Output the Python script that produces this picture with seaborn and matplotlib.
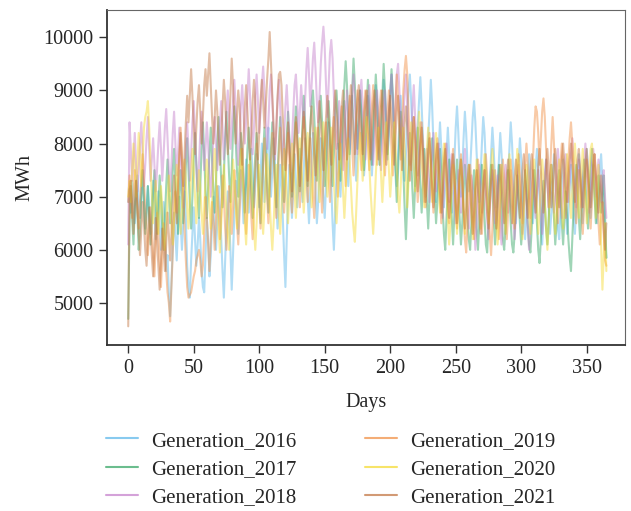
import numpy as np
import pandas as pd
import matplotlib.pyplot as plt
import seaborn as sns

# daily generation values (MWh)
gen_2016 = [
    6900, 7150, 6700, 7300, 6850, 6500, 7000, 7400, 6900, 6600, 7100, 7500, 6950, 6400, 6800, 7200, 6700, 6300, 6900, 7300,
    6800, 6200, 6600, 7100, 6500, 6000, 6400, 6900, 6300, 5600, 5900, 5200, 4750, 5400, 6100, 6700, 6300, 5800, 6400, 7000,
    6500, 6000, 6500, 7100, 6600, 5700, 5300, 5100, 5800, 6300, 6800, 6200, 5700, 6100, 6600, 6200, 5600, 5300, 5200, 5900,
    6600, 6200, 5500, 5900, 6500, 7000, 6400, 6000, 6500, 7200, 6800, 6200, 5600, 5100, 5800, 6500, 7100, 6600, 6000, 5250,
    5900, 6700, 7300, 6800, 6300, 6900, 7500, 7100, 6500, 7000, 7700, 7200, 6700, 7300, 7900, 7400, 6800, 7200, 7800, 7300,
    6800, 7400, 8000, 7500, 6900, 7300, 7900, 8300, 7600, 7000, 7500, 8100, 7600, 6900, 6400, 7000, 7600, 7200, 6600, 5900,
    5300, 6200, 7000, 7600, 7100, 6600, 7200, 7800, 7300, 6800, 7300, 7900, 7400, 6900, 7500, 8100, 7600, 7000, 6500, 7100,
    7700, 8200, 7700, 7100, 6500, 6900, 7500, 8100, 7600, 7000, 6600, 7200, 7900, 8400, 7800, 7200, 6500, 6000, 6700, 7400,
    8000, 7500, 7000, 7600, 8300, 8800, 8300, 7700, 7200, 7800, 8400, 8900, 8400, 7800, 7300, 7900, 8500, 9000, 8500, 7900,
    7400, 7800, 8400, 8900, 8500, 7900, 7400, 7900, 8600, 9100, 8700, 8100, 7600, 8100, 8700, 9200, 8800, 8200, 7700, 8300,
    8900, 9300, 8800, 8200, 7600, 7200, 7800, 8400, 8900, 8400, 7800, 7300, 7800, 8500, 9000, 9300, 8800, 8200, 7600, 7200,
    7700, 8300, 8800, 9250, 8700, 8100, 7500, 7000, 7500, 8100, 8600, 9200, 8700, 8000, 7400, 6900, 7300, 7900, 8400, 7900,
    7300, 6800, 7200, 7800, 8300, 7800, 7200, 6700, 7100, 7700, 8300, 8700, 8200, 7600, 7000, 7500, 8100, 8600, 8200, 7600,
    7100, 7500, 8000, 8500, 8800, 8400, 7800, 7300, 6900, 7400, 8000, 8500, 8200, 7600, 7100, 6700, 7200, 7800, 8300, 7900,
    7300, 6800, 7200, 7700, 8200, 7800, 7200, 6700, 6300, 6800, 7400, 7900, 8400, 8000, 7400, 6900, 6500, 7000, 7600, 8100,
    7700, 7100, 6600, 6200, 6700, 7300, 7800, 7400, 6900, 6500, 6900, 7500, 7900, 7500, 7000, 6500, 6100, 6600, 7200, 7700,
    7300, 6800, 6300, 6700, 7300, 7800, 7400, 6900, 6400, 6200, 6700, 7300, 7700, 7300, 6800, 6300, 6700, 7200, 7600, 7200,
    6700, 6300, 6800, 7300, 7800, 7400, 6900, 6500, 7000, 7500, 7900, 7500, 7000, 6600, 7100, 7600, 7200, 6800, 6500, 7000,
    7500, 7800, 7300, 6800, 6200, 5850,
]
gen_2017 = [
    4700, 6500, 7200, 6600, 6100, 6800, 7300, 6700, 6000, 6400, 7000, 7500, 6900, 6300, 6700, 7200, 6600, 6100, 6500, 7100,
    7500, 6900, 6300, 6800, 7400, 7000, 6400, 6000, 6600, 7200, 7700, 7100, 6500, 6900, 7500, 7900, 7300, 6700, 6300, 6900,
    7500, 7100, 6500, 7000, 7600, 8100, 7500, 6900, 6400, 7000, 7700, 8200, 7600, 7000, 6600, 7200, 7900, 8400, 7800, 7100,
    6600, 7200, 7800, 8300, 7700, 7100, 6700, 7300, 8000, 8500, 7900, 7300, 6800, 7400, 8100, 8600, 8000, 7400, 6900, 7500,
    8200, 8700, 8100, 7500, 7000, 7600, 8200, 7800, 7200, 6700, 7300, 7900, 8300, 7700, 7100, 6600, 7200, 7800, 8200, 7600,
    7000, 6500, 7100, 7800, 8300, 7800, 7200, 6700, 7300, 7900, 8400, 7900, 7300, 6800, 7400, 8000, 8500, 8000, 7400, 6900,
    7500, 8100, 8600, 8100, 7500, 7000, 7600, 8200, 8700, 8200, 7600, 7100, 7700, 8300, 8900, 8400, 7800, 7200, 7700, 8300,
    8800, 9000, 8500, 7900, 7300, 7800, 8400, 8900, 8400, 7800, 7200, 7700, 8300, 8800, 8300, 7700, 7200, 7800, 8500, 9000,
    8500, 7900, 7300, 7900, 8600, 9100, 9550, 9100, 8400, 7800, 8400, 9000, 9600, 9100, 8500, 7900, 8400, 9000, 8600, 8000,
    7500, 8100, 8700, 9200, 8700, 8100, 7600, 8200, 8800, 9300, 8800, 8200, 7600, 8200, 8900, 9500, 9000, 8400, 7800, 8300,
    8900, 9400, 8900, 8200, 7500, 6900, 7500, 8100, 8600, 8100, 7500, 6800, 6200, 6900, 7600, 8200, 7700, 7100, 6600, 7200,
    7800, 8300, 7800, 7200, 6700, 7300, 7900, 7500, 6900, 6400, 7000, 7600, 8100, 7600, 7000, 6500, 6900, 7500, 7900, 7400,
    6800, 6300, 6000, 6600, 7200, 7700, 7200, 6600, 6100, 6700, 7300, 7700, 7200, 6600, 6100, 6500, 7100, 7600, 7200, 6600,
    6200, 6000, 6500, 7100, 7500, 7000, 6400, 6000, 6500, 7100, 7600, 7200, 6600, 6100, 5950, 6500, 7100, 7600, 7200, 6600,
    6100, 6500, 7100, 7600, 7300, 6700, 6200, 6000, 6400, 7000, 7500, 7100, 6500, 6100, 5950, 6300, 6900, 7400, 7000, 6500,
    6100, 6500, 7100, 7500, 7100, 6500, 6100, 5950, 6400, 7000, 7500, 7100, 6500, 6000, 5750, 6200, 6800, 7300, 6900, 6400,
    6100, 6600, 7200, 7600, 7200, 6600, 6100, 6500, 7100, 7500, 7000, 6500, 6100, 6600, 7100, 6700, 6200, 5850, 5600, 6200,
    6800, 7300, 7600, 7200, 6600, 6200, 6700, 7300, 7700, 7300, 6800, 6400, 6900, 7500, 7900, 7500, 7000, 6500, 6900, 7400,
    7200, 6700, 7100, 7400, 6600, 5850,
]
gen_2018 = [
    6100, 8400, 7900, 7300, 7700, 8200, 7600, 7100, 7500, 8000, 8400, 7800, 7200, 7600, 8100, 8500, 7900, 7300, 7700, 8100,
    7600, 7100, 7500, 8000, 8400, 7900, 7300, 7800, 8300, 8650, 8100, 7500, 7100, 7600, 8200, 8600, 8000, 7400, 7800, 8300,
    7800, 7200, 6800, 7300, 7900, 8400, 7900, 7300, 7800, 8400, 8800, 8200, 7600, 7100, 7600, 8200, 8600, 8100, 7500, 7900,
    8400, 8000, 7400, 7000, 7500, 8100, 8500, 8000, 7500, 7900, 8400, 8800, 8300, 7700, 8100, 8600, 9000, 8500, 7900, 8300,
    8800, 9200, 8700, 8100, 7600, 8100, 8700, 9100, 8600, 8000, 8400, 8900, 9400, 8900, 8300, 7800, 8300, 8900, 9300, 8800,
    8200, 8600, 9100, 9450, 9000, 8400, 7900, 8400, 9000, 9300, 8800, 8200, 7700, 8200, 8800, 9200, 8700, 8100, 7600, 8100,
    8700, 9100, 8600, 8000, 7500, 8000, 8600, 9100, 9300, 8800, 8200, 8600, 9100, 8700, 8300, 8800, 9400, 9800, 9300, 8700,
    9100, 9600, 9900, 9400, 8800, 8400, 8900, 9500, 9900, 10200, 9800, 9100, 8500, 9100, 9700, 9950, 9600, 8900, 8300, 7900,
    8300, 8800, 8400, 7900, 7500, 8000, 8600, 9000, 8500, 7900, 8400, 9000, 9300, 8800, 8200, 7800, 8300, 8900, 9200, 8700,
    8100, 7700, 8200, 8800, 9100, 8600, 8000, 7600, 8100, 8700, 9000, 8500, 7900, 7500, 8000, 8600, 9000, 8500, 7900, 8400,
    9000, 9300, 8800, 8200, 8700, 9300, 9500, 9000, 8400, 7900, 8400, 9000, 9300, 8700, 8100, 7600, 8100, 8700, 9100, 8500,
    7900, 7400, 7900, 8400, 8000, 7400, 6900, 7400, 7900, 7500, 6900, 7300, 7800, 8200, 7700, 7100, 7500, 8000, 7600, 7000,
    6600, 7100, 7700, 8000, 7500, 6900, 7300, 7800, 7400, 6800, 6500, 7000, 7500, 7200, 6700, 7100, 7600, 7900, 7400, 6800,
    6400, 6900, 7400, 7100, 6600, 6000, 6500, 7100, 7600, 7200, 6700, 7100, 7500, 7100, 6600, 6200, 6700, 7200, 7500, 7000,
    6500, 6900, 7400, 7000, 6400, 6100, 6600, 7200, 7600, 7200, 6700, 7100, 7500, 7100, 6500, 6200, 6700, 7200, 7600, 7200,
    6700, 6300, 6800, 7300, 6900, 6400, 6000, 6500, 7100, 7500, 7100, 6600, 7000, 7500, 7200, 6700, 6300, 6800, 7400, 7700,
    7300, 6800, 7200, 7600, 7200, 6700, 7000, 7500, 7900, 7500, 7000, 6600, 7000, 7500, 7800, 7400, 6900, 7300, 7800, 8100,
    7700, 7200, 6800, 7200, 7700, 7300, 6800, 7200, 7600, 8000, 7600, 7100, 6700, 7100, 7600, 7900, 7500, 7000, 7400, 7700,
    7300, 6900, 7300, 7500, 7000, 6600,
]
gen_2019 = [
    6900, 7400, 7100, 6600, 7000, 7500, 7200, 6700, 6400, 6900, 7400, 7800, 7300, 6800, 6300, 5900, 6300, 6800, 6400, 5900,
    5500, 6100, 6700, 6300, 5800, 5300, 5900, 6500, 6100, 5600, 5200, 5000, 4650, 5300, 6000, 6600, 7100, 6700, 7300, 7800,
    8300, 7800, 7100, 6400, 5800, 5300, 5100, 5150, 5200, 5350, 5500, 5600, 5800, 5900, 6000, 5800, 5500, 5700, 6300, 7000,
    6600, 6100, 5600, 6200, 6900, 6500, 6000, 6600, 7200, 6800, 6200, 6700, 7400, 7000, 6400, 6000, 6600, 7200, 6900, 6300,
    6800, 7500, 7100, 6500, 6100, 6700, 7300, 7900, 7400, 6800, 6300, 6900, 7600, 7200, 6600, 6200, 6800, 7500, 8000, 7500,
    6900, 6400, 7000, 7600, 8100, 7600, 7000, 6500, 7100, 7700, 8200, 7700, 7100, 6600, 7200, 7800, 8300, 7800, 7200, 6700,
    7200, 7800, 8200, 7700, 7100, 6700, 7300, 7900, 8400, 7900, 7300, 6800, 7400, 8000, 8500, 8000, 7400, 6900, 7500, 8100,
    7600, 7000, 6600, 7200, 7800, 8300, 7800, 7200, 6700, 7300, 7900, 8400, 8000, 7400, 6900, 7400, 8000, 8500, 8100, 7500,
    7000, 7600, 8200, 8700, 8300, 7700, 7200, 7800, 8400, 8900, 8500, 7900, 7400, 7900, 8500, 9000, 8600, 8000, 7500, 8000,
    8600, 9000, 8600, 8000, 7500, 8100, 8700, 9100, 8700, 8100, 7600, 8200, 8700, 9000, 8500, 7900, 7400, 8000, 8600, 9000,
    8500, 7900, 7400, 8000, 8700, 9300, 8800, 8200, 7700, 8300, 9000, 9400, 9650, 9300, 8600, 8000, 7500, 8000, 8500, 8000,
    7400, 6900, 7400, 8000, 8400, 7900, 7300, 6800, 7300, 7900, 8200, 7700, 7100, 6700, 7200, 7800, 8100, 7600, 7000, 6500,
    7000, 7600, 8000, 7500, 6900, 6500, 7000, 7600, 7900, 7400, 6800, 6400, 6900, 7500, 7800, 7300, 6700, 6200, 5950, 6500,
    7100, 7600, 7300, 6700, 6200, 6700, 7300, 7700, 7300, 6800, 6300, 6800, 7400, 7800, 7400, 6800, 6300, 5900, 6400, 7000,
    7500, 7200, 6600, 6200, 6700, 7300, 7700, 7300, 6700, 6200, 6700, 7300, 7700, 7300, 6800, 6400, 6900, 7400, 7800, 7400,
    6900, 6500, 7000, 7600, 8000, 7600, 7000, 6600, 7100, 7700, 8300, 8700, 8600, 8200, 7600, 8100, 8600, 8850, 8500, 7900,
    7300, 6800, 7400, 8000, 8500, 8000, 7400, 6900, 6500, 7000, 7600, 8000, 7600, 7000, 6600, 7100, 7700, 8100, 8400, 8000,
    7400, 6900, 6500, 7000, 7500, 7200, 6700, 6300, 6800, 7300, 7700, 7300, 6800, 6400, 6900, 7400, 7800, 7400, 6900, 6500,
    6100, 6600, 6900, 6300, 5800, 5700,
]
gen_2020 = [
    7000, 7300, 6900, 7500, 8000, 7500, 7000, 7600, 8200, 7800, 7200, 7700, 8300, 8500, 8600, 8800, 8300, 7600, 7000, 6500,
    6900, 7300, 6800, 6300, 6700, 7200, 6800, 6200, 6000, 6400, 6900, 7400, 7000, 6500, 6100, 6600, 7100, 7600, 7200, 6700,
    6300, 6800, 7300, 7700, 7300, 6800, 6400, 6900, 7400, 7900, 7500, 7000, 6500, 7000, 7500, 7200, 6700, 6300, 6800, 7300,
    7700, 7300, 6800, 6400, 6900, 7500, 7900, 7400, 6900, 6400, 5950, 6500, 7100, 7600, 7200, 6700, 6300, 6000, 6600, 7200,
    7700, 7300, 6800, 6400, 6900, 7500, 7900, 7500, 7000, 6500, 6100, 6700, 7300, 7800, 7400, 6900, 6400, 6000, 6500, 7100,
    7600, 7200, 6700, 6300, 6800, 7400, 7800, 7400, 6900, 6400, 6000, 6500, 7100, 7600, 7200, 6700, 6300, 6800, 7400, 7900,
    7500, 7000, 6500, 7000, 7600, 8000, 7600, 7100, 6600, 7100, 7700, 8100, 7700, 7200, 6700, 7200, 7800, 8200, 7800, 7300,
    6800, 7300, 7900, 8300, 7900, 7400, 6900, 7400, 8000, 8400, 8000, 7500, 7000, 7400, 8000, 8300, 7900, 7300, 6800, 6500,
    7000, 7600, 8000, 7600, 7100, 6600, 7100, 7700, 8100, 7700, 7200, 6700, 6400, 6150, 6700, 7300, 7800, 8200, 7800, 7300,
    7700, 8200, 8500, 8100, 7600, 7100, 6700, 6300, 6800, 7400, 7900, 8300, 7900, 7400, 6900, 7400, 8000, 8400, 8000, 7500,
    7000, 7400, 8000, 8400, 8000, 7500, 7000, 6700, 7200, 7800, 8300, 7900, 7400, 6800, 7300, 7900, 8400, 8100, 7600, 7100,
    7500, 8100, 8600, 8200, 7700, 7200, 6800, 7300, 7900, 8300, 7900, 7400, 6900, 7300, 7800, 8200, 7800, 7200, 6700, 7100,
    7600, 8000, 7600, 7100, 6600, 6100, 6500, 7100, 7600, 7300, 6800, 6300, 6800, 7300, 7700, 7300, 6800, 6300, 6700, 7200,
    7600, 7200, 6700, 6200, 6600, 7200, 7700, 7400, 6900, 6400, 6800, 7400, 7800, 7500, 7000, 6500, 6900, 7500, 7900, 7500,
    7000, 6500, 6100, 6600, 7200, 7600, 7200, 6700, 6300, 6800, 7400, 7800, 7400, 6900, 6500, 6900, 7400, 7900, 7600, 7100,
    6600, 6200, 6600, 7200, 7600, 7200, 6700, 6300, 6800, 7300, 7700, 7300, 6800, 6300, 6700, 7300, 7700, 7400, 6900, 6400,
    6000, 6500, 7100, 7600, 7300, 6800, 6300, 6700, 7200, 7700, 7300, 6800, 6400, 6800, 7300, 7800, 7500, 7000, 6600, 7100,
    7600, 8000, 7600, 7100, 6600, 7000, 7500, 7900, 7500, 7000, 6500, 6900, 7400, 7900, 8000, 7600, 7100, 6600, 7100, 7600,
    6900, 6100, 5250, 5900, 6500, 5600,
]
gen_2021 = [
    4560, 7100, 7300, 6800, 6300, 6800, 7300, 6900, 6300, 5900, 6400, 6900, 6500, 6000, 5700, 6200, 6800, 6400, 5900, 5500,
    6000, 6600, 6200, 5700, 5250, 5800, 6400, 6000, 5600, 6100, 6700, 6300, 5800, 6300, 6900, 7400, 7000, 6500, 7100, 7700,
    8200, 7700, 7200, 7800, 8400, 8900, 8400, 8900, 9400, 8900, 8300, 7800, 8300, 8800, 9100, 8600, 8000, 8500, 9100, 9400,
    8900, 9300, 9700, 9100, 8500, 8000, 8500, 9000, 8600, 8000, 7600, 8100, 8700, 9200, 8800, 8200, 7800, 8300, 8900, 9600,
    9100, 8500, 8000, 8500, 9000, 8700, 8100, 7600, 8100, 8700, 9100, 8600, 8100, 7700, 8200, 8800, 9200, 8800, 8200, 7700,
    8200, 8800, 9200, 8800, 8300, 8700, 9200, 9600, 10100, 9500, 8900, 8300, 7800, 8300, 8900, 9300, 9350, 9100, 8500, 8000,
    7500, 7900, 8400, 8000, 7500, 7100, 7600, 8100, 8500, 8100, 7600, 7200, 7700, 8200, 8600, 8200, 7700, 7300, 7800, 8300,
    8700, 8300, 7800, 7400, 7900, 8400, 8800, 8400, 7900, 7500, 8000, 8500, 8900, 8500, 8000, 7600, 8100, 8600, 9000, 8600,
    8100, 7700, 8200, 8700, 9000, 8600, 8100, 7700, 8200, 8700, 9100, 8700, 8200, 7800, 8300, 8800, 9100, 8700, 8200, 7800,
    8300, 8800, 9000, 8600, 8100, 7700, 8200, 8700, 9000, 8600, 8100, 7700, 8200, 8700, 9000, 8500, 8000, 7600, 8100, 8600,
    8900, 8500, 8000, 7600, 8100, 8600, 8900, 8500, 8000, 7500, 7900, 8400, 8700, 8300, 7800, 7300, 7700, 8200, 8500, 8100,
    7600, 7100, 7500, 8000, 8300, 7900, 7400, 6900, 7300, 7800, 8100, 7700, 7200, 6800, 7200, 7700, 8000, 7600, 7100, 6700,
    7100, 7600, 7900, 7500, 7000, 6600, 7000, 7500, 7800, 7400, 6900, 6500, 6900, 7400, 7700, 7300, 6800, 6400, 6800, 7300,
    7600, 7200, 6700, 6300, 6700, 7200, 7500, 7100, 6600, 6300, 6700, 7200, 7500, 7100, 6700, 6400, 6800, 7300, 7600, 7200,
    6800, 6400, 6800, 7300, 7600, 7200, 6800, 6500, 6900, 7400, 7700, 7300, 6900, 6500, 6900, 7400, 7700, 7300, 6900, 6600,
    7000, 7500, 7800, 7400, 7000, 6600, 7000, 7500, 7800, 7400, 7000, 6700, 7100, 7600, 7900, 7500, 7100, 6700, 7100, 7600,
    7900, 7500, 7100, 6800, 7200, 7600, 7900, 7500, 7100, 6800, 7200, 7700, 8000, 7600, 7200, 6900, 7300, 7700, 8000, 7600,
    7200, 6900, 7300, 7700, 7900, 7500, 7100, 6800, 7200, 7600, 7900, 7500, 7100, 6800, 7200, 7600, 7800, 7400, 7000, 6700,
    7100, 7400, 6900, 6400, 6000, 6500,
]

series = {
    "Generation_2016": gen_2016,
    "Generation_2017": gen_2017,
    "Generation_2018": gen_2018,
    "Generation_2019": gen_2019,
    "Generation_2020": gen_2020,
    "Generation_2021": gen_2021,
}
colors = {
    "Generation_2016": "#56b4e9",
    "Generation_2017": "#2ca25f",
    "Generation_2018": "#c27bc9",
    "Generation_2019": "#f08a3c",
    "Generation_2020": "#f5d92a",
    "Generation_2021": "#c0703a",
}

frames = []
for name, vals in series.items():
    frames.append(pd.DataFrame({"Days": np.arange(len(vals)), "MWh": vals, "series": name}))
df = pd.concat(frames, ignore_index=True)

sns.set_style("ticks")
plt.rcParams["font.family"] = ["Liberation Serif", "DejaVu Serif"]

fig = plt.figure(figsize=(6.31, 5.11), dpi=100)
ax = fig.add_axes([0.17, 0.325, 0.82, 0.655])
sns.lineplot(data=df, x="Days", y="MWh", hue="series", palette=colors,
             alpha=0.45, linewidth=1.5, ax=ax, legend=True)

ax.set_xlim(-16, 379)
ax.set_ylim(4210, 10510)
ax.set_xticks([0, 50, 100, 150, 200, 250, 300, 350])
ax.set_yticks([5000, 6000, 7000, 8000, 9000, 10000])
ax.tick_params(labelsize=14.5, length=6, width=1, color="#333333", pad=4)
ax.set_xlabel("Days", fontsize=14.5, labelpad=11)
ax.set_ylabel("MWh", fontsize=14.5, labelpad=6)
for s in ["left", "bottom"]:
    ax.spines[s].set_color("#333333")
    ax.spines[s].set_linewidth(1.3)
for s in ["top", "right"]:
    ax.spines[s].set_color("#666666")
    ax.spines[s].set_linewidth(0.8)

handles, labels = ax.get_legend_handles_labels()
ax.legend_.remove()
for h in handles:
    h.set_alpha(0.7)
    h.set_linewidth(1.5)
fig.legend(handles, labels,
           ncol=2, loc="upper center", bbox_to_anchor=(0.524, 0.193), frameon=False,
           fontsize=15, handlelength=1.55, handletextpad=0.65, columnspacing=3.25,
           labelspacing=0.42)

fig.savefig("out.png", dpi=100)
